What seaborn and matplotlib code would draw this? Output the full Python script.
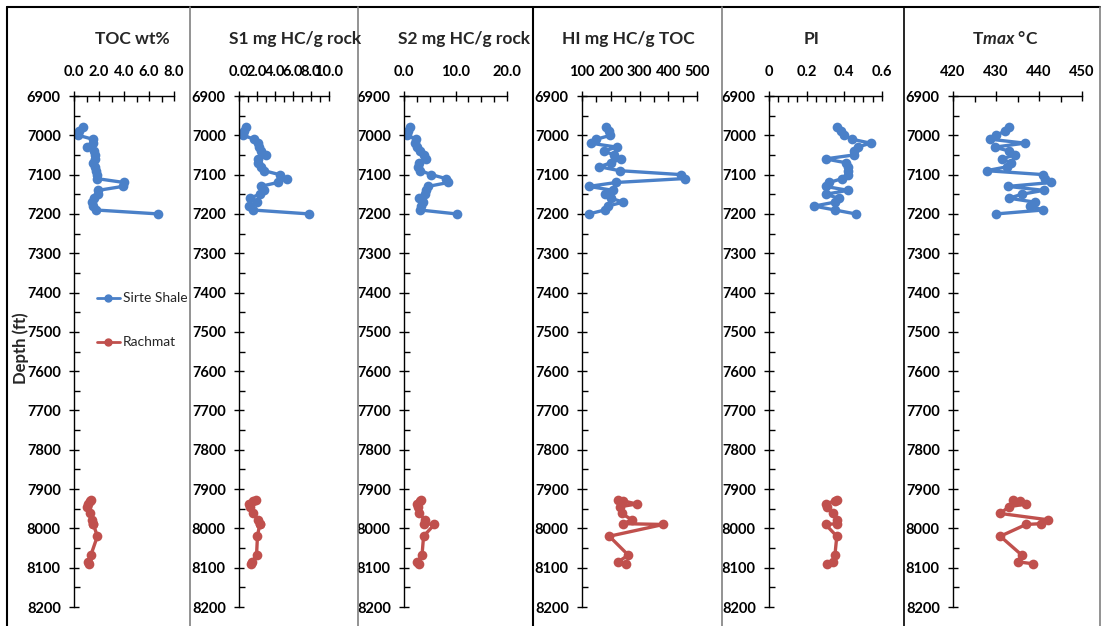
import numpy as np
import pandas as pd
import seaborn as sns
import matplotlib
matplotlib.use("Agg")
import matplotlib.pyplot as plt
from matplotlib.lines import Line2D
from matplotlib.ticker import MultipleLocator, FixedLocator, FixedFormatter

# ---------------- data ----------------
sirte_depth = [6978, 6990, 7000, 7010, 7020, 7030, 7040, 7050, 7060, 7070, 7080, 7090,
               7100, 7110, 7120, 7130, 7140, 7150, 7160, 7170, 7180, 7190, 7200]
sirte_toc = [0.7, 0.4, 0.35, 1.5, 1.5, 1.05, 1.6, 1.7, 1.7, 1.5, 1.7, 1.75,
             1.8, 1.8, 4.0, 3.9, 1.95, 1.9, 1.6, 1.4, 1.55, 1.75, 6.75]
sirte_s1 = [0.75, 0.5, 0.45, 1.7, 2.1, 2.2, 2.4, 3.0, 2.1, 2.1, 2.4, 2.8,
            4.5, 5.3, 4.3, 2.4, 2.8, 2.3, 1.2, 2.0, 1.1, 1.5, 7.8]
sirte_s2 = [1.1, 0.7, 0.6, 2.3, 2.1, 2.6, 3.2, 3.9, 4.2, 2.9, 2.8, 3.2,
            5.3, 8.1, 8.6, 4.7, 4.3, 4.0, 3.0, 3.7, 3.3, 3.1, 10.2]
sirte_hi = [185, 195, 199, 150, 130, 220, 178, 210, 237, 200, 160, 231,
            445, 457, 219, 124, 208, 180, 200, 243, 190, 179, 124]
sirte_pi = [0.36, 0.38, 0.40, 0.44, 0.54, 0.47, 0.45, 0.45, 0.30, 0.41, 0.42, 0.42,
            0.42, 0.39, 0.32, 0.30, 0.42, 0.30, 0.37, 0.35, 0.24, 0.35, 0.46]
sirte_tmax = [433, 432, 430, 428.7, 436.7, 429.7, 433, 434.4, 431.3, 433.5, 432.6, 427.8,
              441, 441.5, 442.9, 432.8, 441.1, 436, 433, 439, 438, 441, 430]

rach_depth = [7928, 7930, 7938, 7945, 7962, 7978, 7988, 7990, 8020, 8068, 8085, 8090]
rach_toc = [1.35, 1.3, 1.1, 1.05, 1.25, 1.45, 1.55, 1.55, 1.87, 1.35, 1.15, 1.2]
rach_s1 = [1.9, 1.6, 1.15, 1.2, 1.5, 2.1, 2.35, 2.3, 2.05, 1.95, 1.45, 1.3]
rach_s2 = [3.3, 3.1, 2.6, 2.7, 2.9, 4.1, 3.8, 5.9, 3.8, 3.5, 2.6, 3.0]
rach_hi = [226, 244, 290, 232, 238, 273, 244, 383, 195, 261, 226, 253]
rach_pi = [0.36, 0.35, 0.30, 0.31, 0.34, 0.36, 0.36, 0.30, 0.36, 0.35, 0.34, 0.31]
rach_tmax = [434, 435.5, 437, 433, 431, 442, 440.5, 437, 431, 436, 435, 438.6]

panel_titles = ["TOC wt%", "S1 mg HC/g rock", "S2 mg HC/g rock", "HI mg HC/g TOC", "PI", "Tmax °C"]
series_names = ["Sirte Shale", "Rachmat"]
depth_ticks = list(range(6900, 8201, 100))

# ---------------- style ----------------
sns.set_theme(style="white")
plt.rcParams['font.family'] = ['Lato', 'DejaVu Sans']
plt.rcParams['mathtext.fontset'] = 'custom'
plt.rcParams['mathtext.it'] = 'Lato:italic:bold'
plt.rcParams['mathtext.rm'] = 'Lato:bold'

sirte_color = "#4A80C8"
rach_color = "#C0504D"

W, H = 1104, 626
fig = plt.figure(figsize=(W / 100, H / 100), dpi=100)

extents = [(74, 174), (239, 329), (404, 507), (582, 697), (769, 882), (953, 1082)]
top_px, bot_px = 96, 607

panels = [
    (sirte_toc, rach_toc, (0, 8), [0, 2, 4, 6, 8], ["0.0", "2.0", "4.0", "6.0", "8.0"], 1.0),
    (sirte_s1, rach_s1, (0, 10), [0, 2, 4, 6, 8, 10], ["0.0", "2.0", "4.0", "6.0", "8.0", "10.0"], 1.0),
    (sirte_s2, rach_s2, (0, 20), [0, 10, 20], ["0.0", "10.0", "20.0"], 2.5),
    (sirte_hi, rach_hi, (100, 500), [100, 200, 300, 400, 500], ["100", "200", "300", "400", "500"], 50),
    (sirte_pi, rach_pi, (0, 0.6), [0, 0.2, 0.4, 0.6], ["0", "0.2", "0.4", "0.6"], 0.05),
    (sirte_tmax, rach_tmax, (420, 450), [420, 430, 440, 450], ["420", "430", "440", "450"], 5),
]

for i, (sv, rv, xlim, xt, xtl, minor) in enumerate(panels):
    l, r = extents[i]
    ax = fig.add_axes([l / W, (H - bot_px) / H, (r - l) / W, (bot_px - top_px) / H])
    ax.set_facecolor('none')
    dfs = pd.DataFrame({"value": sv, "depth": sirte_depth})
    dfr = pd.DataFrame({"value": rv, "depth": rach_depth})
    sns.lineplot(data=dfs, x="value", y="depth", sort=False, estimator=None, orient="y",
                 color=sirte_color, marker="o", markersize=7, markeredgewidth=0,
                 linewidth=2.4, ax=ax, legend=False)
    sns.lineplot(data=dfr, x="value", y="depth", sort=False, estimator=None, orient="y",
                 color=rach_color, marker="o", markersize=7, markeredgewidth=0,
                 linewidth=2.4, ax=ax, legend=False)
    ax.set_xlim(*xlim)
    ax.set_ylim(8200, 6900)
    ax.xaxis.tick_top()
    ax.xaxis.set_major_locator(FixedLocator(xt))
    ax.xaxis.set_major_formatter(FixedFormatter(xtl))
    ax.xaxis.set_minor_locator(MultipleLocator(minor))
    ax.yaxis.set_major_locator(FixedLocator(depth_ticks))
    ax.yaxis.set_major_formatter(FixedFormatter([str(d) for d in depth_ticks]))
    ax.yaxis.set_minor_locator(MultipleLocator(50))
    for s in ['right', 'bottom']:
        ax.spines[s].set_visible(False)
    for s in ['left', 'top']:
        ax.spines[s].set_visible(True)
        ax.spines[s].set_color('black')
        ax.spines[s].set_linewidth(1.0)
    ax.tick_params(axis='x', which='major', direction='inout', length=7, width=1,
                   pad=9, colors='black', labelsize=10.5, top=True, bottom=False)
    ax.tick_params(axis='x', which='minor', direction='in', length=4, width=1,
                   colors='black', top=True, bottom=False)
    ax.tick_params(axis='y', which='major', direction='inout', length=7, width=1,
                   pad=6, colors='black', labelsize=10.5, left=True)
    ax.tick_params(axis='y', which='minor', direction='in', length=4, width=1,
                   colors='black', left=True)
    for lab in ax.get_xticklabels() + ax.get_yticklabels():
        lab.set_fontweight('bold')
    ax.set_xlabel("")
    ax.set_ylabel("")
    ax.grid(False)

# panel titles
title_x = [132, 295, 464, 628, 812, 1005]
for i, t in enumerate(panel_titles):
    label = r"T$\mathit{max}$ °C" if i == 5 else t
    fig.text(title_x[i] / W, 1 - 39 / H, label, ha='center', va='center',
             fontsize=12.5, fontweight='bold')

# depth label
fig.text(21 / W, 1 - 348 / H, "Depth (ft)", rotation=90, ha='center', va='center',
         fontsize=12, fontweight='bold')

# legend
handles = [Line2D([0], [0], color=sirte_color, marker='o', markersize=5, linewidth=2),
           Line2D([0], [0], color=rach_color, marker='o', markersize=5, linewidth=2)]
fig.legend(handles, series_names, loc='upper left', bbox_to_anchor=(84 / W, 1 - 280 / H),
           frameon=False, fontsize=10, labelspacing=2.3, handlelength=1.7, handletextpad=0.2)

# frame / separators
def vline(x, color='black', lw=1.0):
    fig.add_artist(Line2D([x / W, x / W], [0, 1 - 7 / H], color=color, linewidth=lw))

fig.add_artist(Line2D([7 / W, 1100 / W], [1 - 7 / H, 1 - 7 / H], color='black', linewidth=1.5))
vline(7, 'black', 1.5)
vline(190, '#808080', 1.2)
vline(358, '#808080', 1.2)
vline(533, 'black', 1.5)
vline(722, '#808080', 1.2)
vline(904, 'black', 1.2)
vline(1100, '#808080', 1.2)

fig.savefig("out.png", dpi=100)
